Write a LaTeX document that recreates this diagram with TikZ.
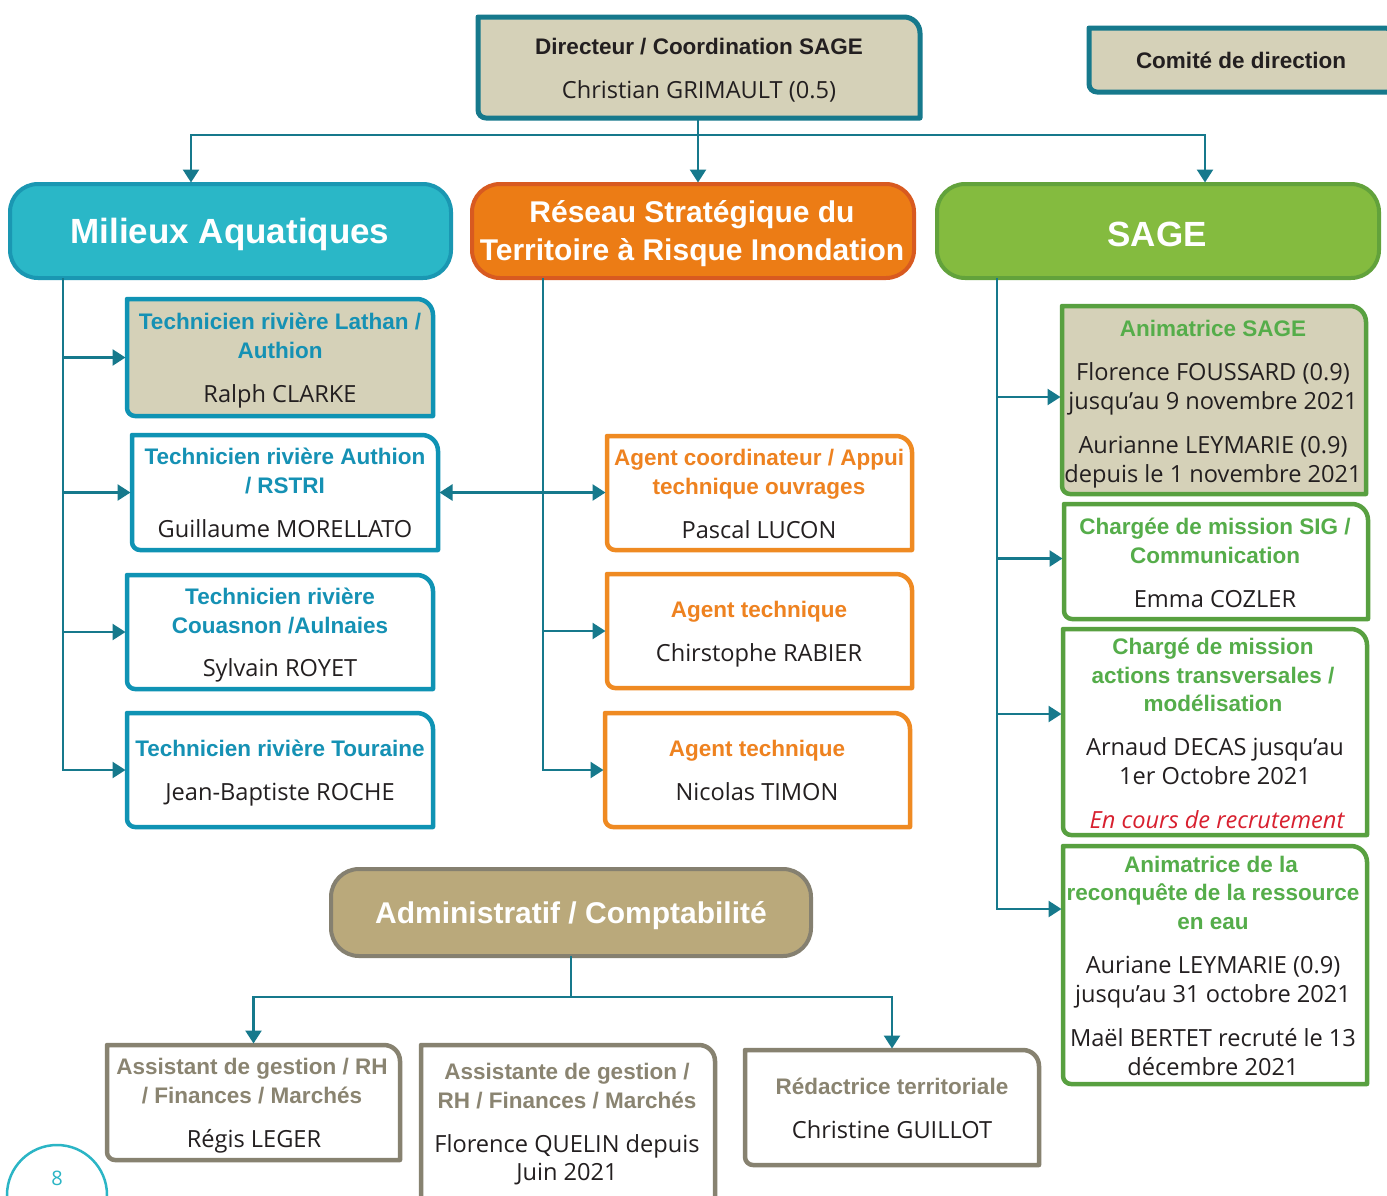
\documentclass[tikz,border=0pt]{standalone}
\usepackage{fontspec}
\setmainfont{Open Sans}
\newfontfamily\hd{Liberation Sans}
\usetikzlibrary{arrows.meta,fit}
\definecolor{cTeal}{HTML}{16798C}
\definecolor{cBeige}{HTML}{D5D1B8}
\definecolor{cCyanF}{HTML}{2AB7C7}
\definecolor{cCyanB}{HTML}{1A97B2}
\definecolor{cTech}{HTML}{0F93B4}
\definecolor{cTechT}{HTML}{1591B4}
\definecolor{cOrF}{HTML}{EC7C15}
\definecolor{cOrB}{HTML}{D85A20}
\definecolor{cAg}{HTML}{EF8A22}
\definecolor{cAgT}{HTML}{EE8220}
\definecolor{cGrF}{HTML}{84BB3F}
\definecolor{cGrB}{HTML}{62A23B}
\definecolor{cSg}{HTML}{58A040}
\definecolor{cSgT}{HTML}{55AD4A}
\definecolor{cAdF}{HTML}{BAA97B}
\definecolor{cAdB}{HTML}{858070}
\definecolor{cB}{HTML}{878270}
\definecolor{cBT}{HTML}{8A8471}
\definecolor{cRed}{HTML}{D8202F}
\definecolor{cText}{HTML}{231F20}
\definecolor{cPg}{HTML}{2BB5C5}
\tikzset{
  conn/.style={draw=cTeal, line width=2.5pt},
  arr/.style={conn, -{Triangle[length=13pt,width=16pt]}, shorten >=1.5pt},
  arr2/.style={conn, {Triangle[length=13pt,width=16pt]}-{Triangle[length=13pt,width=16pt]}, shorten >=1.5pt, shorten <=1.5pt},
  frame/.style={inner sep=0pt, outer sep=0pt},
  ttl/.style={font=\hd\bfseries\fontsize{22.5}{26}\selectfont, anchor=mid, inner sep=0pt},
  nm/.style={font=\fontsize{23.6}{28}\selectfont, anchor=mid, inner sep=0pt, text=cText},
  hdr/.style={frame, rounded corners=28pt, line width=4pt, text=white, align=center,
              font=\hd\bfseries\fontsize{35}{38}\selectfont},
  tbox/.style={draw=cTech, line width=4.5pt},
  abox/.style={draw=cAg, line width=4.5pt, fill=white},
  sbox/.style={draw=cSg, line width=4.5pt},
  bbox/.style={draw=cB, line width=4.5pt, fill=white},
}
\newcommand\shapebox[2]{\draw[#2, line join=round] (#1.north west) -- ([xshift=-16pt]#1.north east)
  arc[start angle=90,end angle=0,radius=16pt] -- (#1.south east) -- ([xshift=8pt]#1.south west)
  arc[start angle=270,end angle=180,radius=8pt] -- cycle;}
\newcommand\putl[5]{\node[#1] (#2) at (#3,{#4+5}) {#5};}
\begin{document}
\begin{tikzpicture}[x=1pt,y=-1pt]
\clip (0,0) rectangle (1387,1195);
\fill[white] (0,0) rectangle (1387,1195);

% ---------- top ----------
\node[frame, fit={(478,17)(920,118)}] (dir) {};
\shapebox{dir}{draw=cTeal, line width=5pt, fill=cBeige}
\putl{ttl, text=cText}{dirA}{699}{47}{Directeur / Coordination SAGE}
\putl{nm}{dirB}{699}{91}{Christian GRIMAULT (0.5)}

\node[frame, fit={(1089,28)(1400,92)}] (com) {};
\shapebox{com}{draw=cTeal, line width=5pt, fill=cBeige}
\putl{ttl, text=cText}{comA}{1241}{61}{Comité de direction}

% ---------- headers ----------
\node[hdr, fill=cCyanF, draw=cCyanB, fit={(10,184)(451,278)}] (ma) {};
\node[font=\hd\bfseries\fontsize{35}{38}\selectfont, text=white] (maT) at (230,234) {Milieux Aquatiques};
\node[hdr, fill=cOrF, draw=cOrB, fit={(472,184)(914,278)}] (rs) {};
\node[font=\hd\bfseries\fontsize{30}{38}\selectfont, text=white, align=center] (rsT) at (692,234) {Réseau Stratégique du\\Territoire à Risque Inondation};
\node[hdr, fill=cGrF, draw=cGrB, fit={(937,184)(1379,278)}] (sg) {};
\node[font=\hd\bfseries\fontsize{35}{38}\selectfont, text=white] (sgT) at (1157,234) {SAGE};

% ---------- Milieux aquatiques ----------
\node[frame, fit={(127,299)(433,416)}] (t1) {};
\shapebox{t1}{tbox, fill=cBeige}
\putl{ttl, text=cTechT}{t1a}{280}{322}{Technicien rivière Lathan /}
\putl{ttl, text=cTechT}{t1b}{280}{351}{Authion}
\putl{nm}{t1c}{280}{395}{Ralph CLARKE}

\node[frame, fit={(132,435)(438,550)}] (t2) {};
\shapebox{t2}{tbox, fill=white}
\putl{ttl, text=cTechT}{t2a}{285}{457}{Technicien rivière Authion}
\putl{ttl, text=cTechT}{t2b}{285}{486}{/ RSTRI}
\putl{nm}{t2c}{285}{530}{Guillaume MORELLATO}

\node[frame, fit={(127,575)(433,689)}] (t3) {};
\shapebox{t3}{tbox, fill=white}
\putl{ttl, text=cTechT}{t3a}{280}{597}{Technicien rivière}
\putl{ttl, text=cTechT}{t3b}{280}{626}{Couasnon /Aulnaies}
\putl{nm}{t3c}{280}{669}{Sylvain ROYET}

\node[frame, fit={(127,713)(433,827)}] (t4) {};
\shapebox{t4}{tbox, fill=white}
\putl{ttl, text=cTechT}{t4a}{280}{749}{Technicien rivière Touraine}
\putl{nm}{t4b}{280}{793}{Jean-Baptiste ROCHE}

% ---------- Reseau ----------
\node[frame, fit={(607,436)(912,550)}] (a1) {};
\shapebox{a1}{abox}
\putl{ttl, text=cAgT}{a1a}{759}{458}{Agent coordinateur / Appui}
\putl{ttl, text=cAgT}{a1b}{759}{487}{technique ouvrages}
\putl{nm}{a1c}{759}{531}{Pascal LUCON}

\node[frame, fit={(607,574)(912,688)}] (a2) {};
\shapebox{a2}{abox}
\putl{ttl, text=cAgT}{a2a}{759}{610}{Agent technique}
\putl{nm}{a2b}{759}{654}{Chirstophe RABIER}

\node[frame, fit={(605,713)(910,827)}] (a3) {};
\shapebox{a3}{abox}
\putl{ttl, text=cAgT}{a3a}{757}{749}{Agent technique}
\putl{nm}{a3b}{757}{793}{Nicolas TIMON}

% ---------- SAGE ----------
\node[frame, fit={(1062,306)(1366,494)}] (s1) {};
\shapebox{s1}{sbox, fill=cBeige}
\putl{ttl, text=cSgT}{s1a}{1213}{329}{Animatrice SAGE}
\putl{nm}{s1b}{1213}{373}{Florence FOUSSARD (0.9)}
\putl{nm}{s1c}{1213}{402}{jusqu’au 9 novembre 2021}
\putl{nm}{s1d}{1213}{446}{Aurianne LEYMARIE (0.9)}
\putl{nm}{s1e}{1213}{475}{depuis le 1 novembre 2021}

\node[frame, fit={(1064,504)(1368,619)}] (s2) {};
\shapebox{s2}{sbox, fill=white}
\putl{ttl, text=cSgT}{s2a}{1215}{527}{Chargée de mission SIG /}
\putl{ttl, text=cSgT}{s2b}{1215}{556}{Communication}
\putl{nm}{s2c}{1215}{600}{Emma COZLER}

\node[frame, fit={(1063,629)(1367,835)}] (s3) {};
\shapebox{s3}{sbox, fill=white}
\putl{ttl, text=cSgT}{s3a}{1213}{647}{Chargé de mission}
\putl{ttl, text=cSgT}{s3b}{1213}{676}{actions transversales /}
\putl{ttl, text=cSgT}{s3c}{1213}{704}{modélisation}
\putl{nm}{s3d}{1215}{748}{Arnaud DECAS jusqu’au}
\putl{nm}{s3e}{1215}{777}{1er Octobre 2021}
\putl{nm, text=cRed, font=\itshape\fontsize{23.6}{28}\selectfont}{s3f}{1217}{821}{En cours de recrutement}

\node[frame, fit={(1063,846)(1367,1084)}] (s4) {};
\shapebox{s4}{sbox, fill=white}
\putl{ttl, text=cSgT}{s4a}{1211}{865}{Animatrice de la}
\putl{ttl, text=cSgT}{s4b}{1213}{893}{reconquête de la ressource}
\putl{ttl, text=cSgT}{s4c}{1213}{922}{en eau}
\putl{nm}{s4d}{1213}{966}{Auriane LEYMARIE (0.9)}
\putl{nm}{s4e}{1213}{995}{jusqu’au 31 octobre 2021}
\putl{nm}{s4f}{1213}{1039}{Maël BERTET recruté le 13}
\putl{nm}{s4g}{1213}{1068}{décembre 2021}

% ---------- Administratif ----------
\node[hdr, fill=cAdF, draw=cAdB, fit={(331,869)(811,956)}] (ad) {};
\node[font=\hd\bfseries\fontsize{30}{38}\selectfont, text=white] (adT) at (571,916) {Administratif / Comptabilité};

\node[frame, fit={(107,1045)(400,1160)}] (b1) {};
\shapebox{b1}{bbox}
\putl{ttl, text=cBT}{b1a}{252}{1067}{Assistant de gestion / RH}
\putl{ttl, text=cBT}{b1b}{252}{1096}{/ Finances / Marchés}
\putl{nm}{b1c}{254}{1140}{Régis LEGER}

\node[frame, fit={(421,1045)(715,1205)}] (b2) {};
\shapebox{b2}{bbox}
\putl{ttl, text=cBT}{b2a}{567}{1072}{Assistante de gestion /}
\putl{ttl, text=cBT}{b2b}{567}{1101}{RH / Finances / Marchés}
\putl{nm}{b2c}{567}{1145}{Florence QUELIN depuis}
\putl{nm}{b2d}{567}{1173}{Juin 2021}

\node[frame, fit={(745,1050)(1039,1165)}] (b3) {};
\shapebox{b3}{bbox}
\putl{ttl, text=cBT}{b3a}{892}{1087}{Rédactrice territoriale}
\putl{nm}{b3b}{892}{1131}{Christine GUILLOT}

% ---------- connectors ----------
\coordinate (j1) at (698,135);
\coordinate (maIn) at (191,184);
\coordinate (rsIn) at (698,184);
\coordinate (sgIn) at (1205,184);
\draw[conn] (dir.south -| j1) -- (j1);
\draw[arr] (j1) -| (maIn);
\draw[arr] (j1) -- (rsIn);
\draw[arr] (j1) -| (sgIn);

\coordinate (maO) at (63,278);
\draw[arr] (maO) |- (t1.west);
\draw[arr] (maO) |- (t2.west);
\draw[arr] (maO) |- (t3.west);
\draw[arr] (maO) |- (t4.west);

\coordinate (rsO) at (543,278);
\draw[arr] (rsO) |- (a2.west);
\draw[arr] (rsO) |- (a3.west);
\draw[arr2] (t2.east) -- (a1.west |- t2.east);

\coordinate (sgO) at (997,278);
\coordinate (s3in) at (1063,714);
\coordinate (s4in) at (1063,909);
\draw[arr] (sgO) |- ([yshift=3pt]s1.west);
\draw[arr] (sgO) |- ([yshift=3pt]s2.west);
\draw[arr] (sgO) |- (s3in);
\draw[arr] (sgO) |- (s4in);

\coordinate (adJ) at (571,997);
\draw[conn] (ad.south) -- (adJ);
\draw[arr] (adJ) -| (b1.north);
\draw[arr] (adJ) -| (b3.north);

% ---------- page number ----------
\draw[cPg, line width=2.5pt] (57,1195) circle (50pt);
\node[text=cPg, font=\fontsize{20}{24}\selectfont, anchor=mid, inner sep=0pt] (pg) at (57,1183) {8};
\end{tikzpicture}
\end{document}
